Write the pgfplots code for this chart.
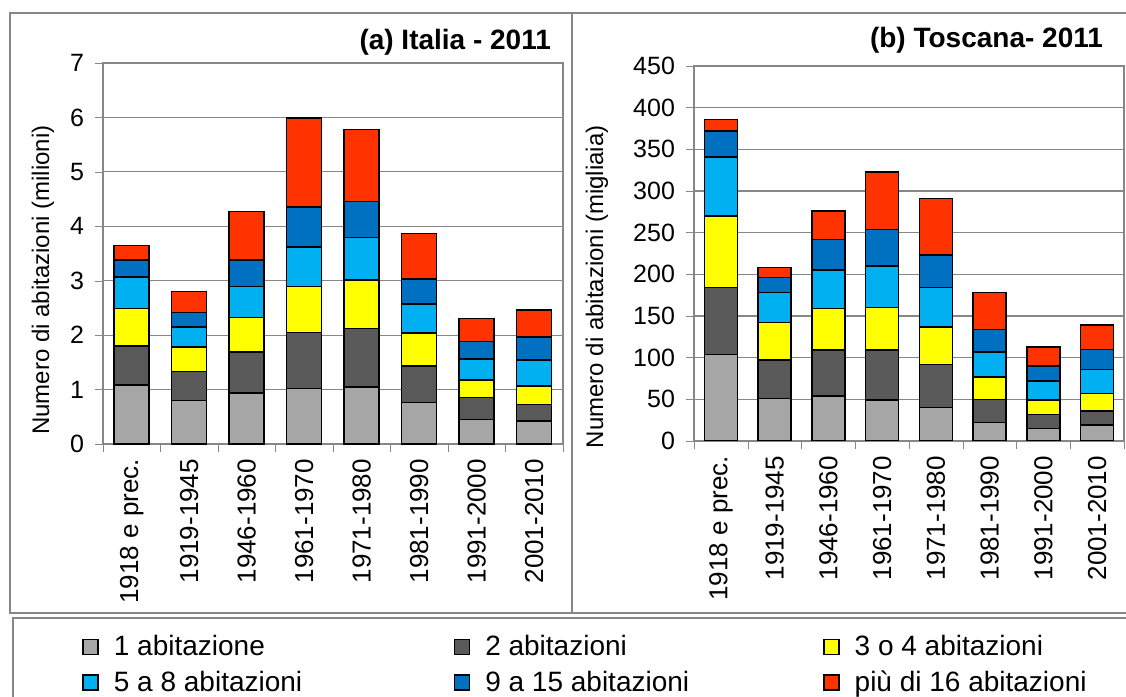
\documentclass[border=0pt]{standalone}
\usepackage{fontspec}
\setmainfont{Liberation Sans}
\usepackage{pgfplots}
\usepackage{pgfplotstable}
\pgfplotsset{compat=1.18}

\definecolor{c1}{HTML}{A6A6A6}
\definecolor{c2}{HTML}{595959}
\definecolor{c3}{HTML}{FFFF00}
\definecolor{c4}{HTML}{00B0F0}
\definecolor{c5}{HTML}{0070C0}
\definecolor{c6}{HTML}{FF3300}
\definecolor{gridc}{HTML}{878787}

% Italia, milioni di abitazioni per epoca di costruzione
\pgfplotstableread{
x  a    b    c    d    e    f
0  1.08 0.72 0.69 0.58 0.31 0.27
1  0.80 0.53 0.45 0.37 0.27 0.38
2  0.94 0.75 0.63 0.57 0.49 0.89
3  1.02 1.03 0.84 0.73 0.73 1.64
4  1.05 1.07 0.89 0.78 0.67 1.32
5  0.76 0.67 0.61 0.53 0.46 0.84
6  0.45 0.40 0.33 0.38 0.32 0.43
7  0.42 0.31 0.34 0.47 0.43 0.49
}\italia

% Toscana, migliaia
\pgfplotstableread{
x  a    b   c   d   e   f
0  104  80  86  71  31  14
1  51   46  45  36  18  12
2  54   55  50  46  37  34
3  49   60  51  50  44  69
4  40   52  45  47  39  68
5  22   28  27  30  27  44
6  15   17  17  23  18  23
7  19   17  21  29  24  29
}\toscana

\pgfplotsset{
  leg/.style={legend image code/.code={\draw[##1,draw=black,line width=0.7pt] (0pt,-3.75pt) rectangle (7.5pt,3.75pt);}},
  panel/.style={
    scale only axis,
    ybar stacked,
    xmin=-0.5, xmax=7.5, ymin=0,
    xtick={0,...,7},
    xticklabels={1918 e prec.,1919-1945,1946-1960,1961-1970,1971-1980,1981-1990,1991-2000,2001-2010},
    x tick label style={rotate=90, anchor=east, font=\fontsize{13}{15}\selectfont},
    major x tick style={draw=none},
    minor xtick={-0.5,0.5,...,7.5},
    minor x tick style={gridc},
    tick align=outside,
    major tick length=4pt, minor tick length=4pt,
    tick pos=left,
    ytick style={gridc},
    ymajorgrids, grid style={gridc, line width=0.6pt},
    axis line style={gridc, line width=0.6pt},
    y tick label style={font=\fontsize{12.5}{14}\selectfont, xshift=-2pt},
    /pgf/number format/assume math mode=true,
    ylabel style={font=\fontsize{12}{14}\selectfont, anchor=center},
    every axis plot/.append style={draw=black, line width=0.75pt},
  },
}

\begin{document}
\begin{tikzpicture}
\useasboundingbox (0,0) rectangle (563pt,-348.5pt);
\draw[gridc, line width=0.8pt] (5pt,-6.5pt) rectangle (286pt,-306.5pt);
\draw[gridc, line width=0.8pt] (286pt,-6.5pt) rectangle (564pt,-306.5pt);
\draw[gridc, line width=0.8pt] (6.5pt,-309pt) rectangle (564pt,-352pt);

\begin{axis}[panel,
  at={(51.5pt,-31.5pt)}, anchor=north west,
  width=230pt, height=190.5pt,
  ymax=7, ytick={0,...,7},
  bar width=17.5pt,
  ylabel={Numero di abitazioni (milioni)},
  ylabel style={at={(axis description cs:-0.1304,0.43)}},
  legend columns=3,
  legend style={draw=none, fill=none,
    at={(axis description cs:-0.0585,-0.480)}, anchor=north west,
    font=\fontsize{14}{16}\selectfont,
    /tikz/every odd column/.append style={column sep=5.5pt},
    row sep=2pt},
  legend cell align=left,
]
\addplot[fill=c1, leg] table[x=x, y=a] {\italia};
\addplot[fill=c2, leg] table[x=x, y=b] {\italia};
\addplot[fill=c3, leg] table[x=x, y=c] {\italia};
\addplot[fill=c4, leg] table[x=x, y=d] {\italia};
\addplot[fill=c5, leg] table[x=x, y=e] {\italia};
\addplot[fill=c6, leg] table[x=x, y=f] {\italia};
\addlegendentry{\makebox[168pt][l]{1 abitazione}}
\addlegendentry{\makebox[167pt][l]{2 abitazioni}}
\addlegendentry{\makebox[120pt][l]{3 o 4 abitazioni}}
\addlegendentry{5 a 8 abitazioni}
\addlegendentry{9 a 15 abitazioni}
\addlegendentry{più di 16 abitazioni}
\end{axis}

\begin{axis}[panel,
  at={(347pt,-33pt)}, anchor=north west,
  width=215pt, height=187.5pt,
  ymax=450, ytick={0,50,...,450},
  bar width=16.5pt,
  ylabel={Numero di abitazioni (migliaia)},
  ylabel style={at={(axis description cs:-0.2256,0.411)}},
]
\addplot[fill=c1] table[x=x, y=a] {\toscana};
\addplot[fill=c2] table[x=x, y=b] {\toscana};
\addplot[fill=c3] table[x=x, y=c] {\toscana};
\addplot[fill=c4] table[x=x, y=d] {\toscana};
\addplot[fill=c5] table[x=x, y=e] {\toscana};
\addplot[fill=c6] table[x=x, y=f] {\toscana};
\end{axis}

\node[anchor=base east, font=\bfseries\fontsize{14}{16}\selectfont] at (279pt,-24.5pt) {(a) Italia - 2011};
\node[anchor=base east, font=\bfseries\fontsize{14}{16}\selectfont] at (555pt,-23.5pt) {(b) Toscana- 2011};
\end{tikzpicture}
\end{document}
